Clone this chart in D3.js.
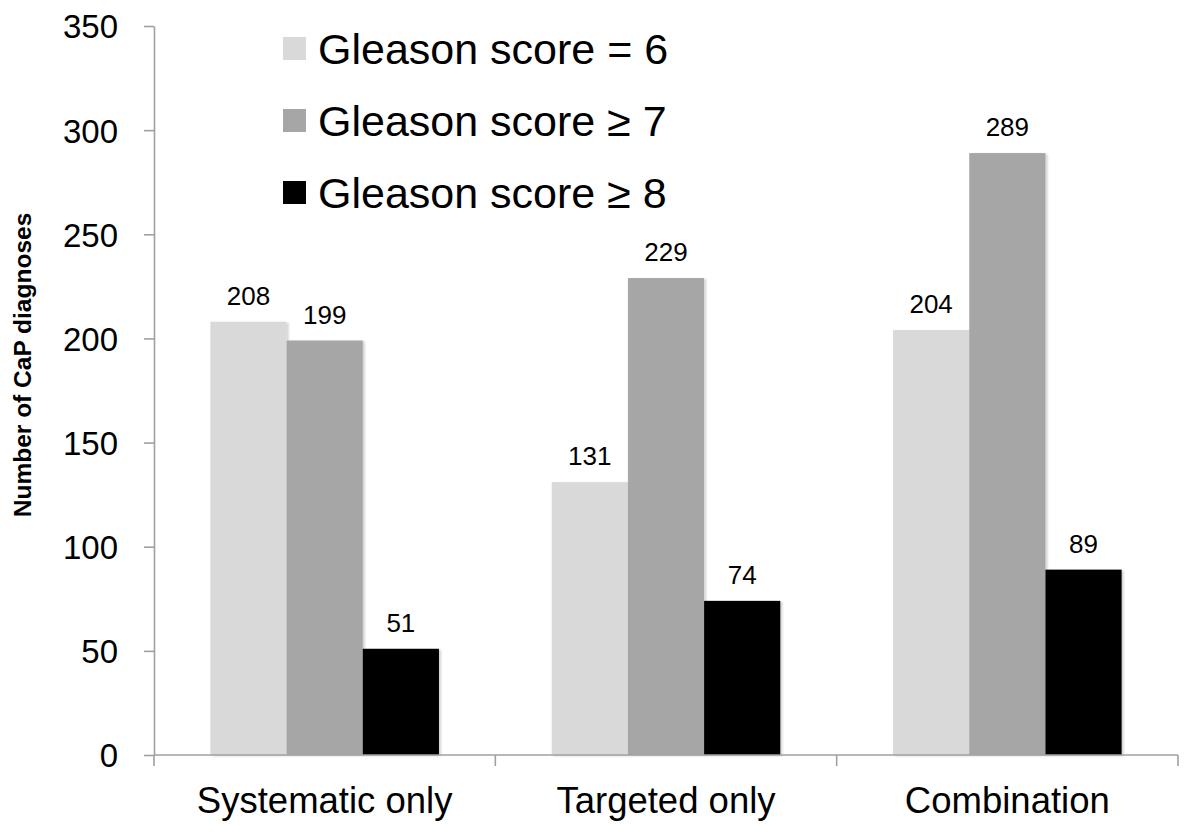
<!DOCTYPE html>
<html>
<head>
<meta charset="utf-8">
<script src="https://cdn.jsdelivr.net/npm/d3@7"></script>
<style>
  body { margin: 0; background: #fff; }
  text { font-family: "Liberation Sans", Arial, sans-serif; fill: #000; }
</style>
</head>
<body>
<div></div>
<script>
const categories = ["Systematic only", "Targeted only", "Combination"];
const seriesNames = ["Gleason score = 6", "Gleason score \u2265 7", "Gleason score \u2265 8"];
const gleason6 = [208, 131, 204];
const gleason7 = [199, 229, 289];
const gleason8 = [51, 74, 89];
const yTicks = [0, 50, 100, 150, 200, 250, 300, 350];
const colors = ["#d9d9d9", "#a6a6a6", "#000000"];

const series = [gleason6, gleason7, gleason8];

const width = 1200, height = 834;
const plotLeft = 154, plotRight = 1178, plotTop = 26, plotBottom = 755;

const svg = d3.select("div")
    .append("svg")
    .attr("width", width)
    .attr("height", height);

const defs = svg.append("defs");
const f = defs.append("filter").attr("id", "shadow")
    .attr("x", "-10%").attr("y", "-10%").attr("width", "130%").attr("height", "120%");
f.append("feDropShadow")
    .attr("dx", 2).attr("dy", 1).attr("stdDeviation", 1.2)
    .attr("flood-color", "#000").attr("flood-opacity", 0.18);

const x0 = d3.scaleBand().domain(categories).range([plotLeft, plotRight]).padding(0);
const x1 = d3.scaleBand().domain(d3.range(3)).range([0, x0.bandwidth()])
    .paddingInner(0).paddingOuter(0.74);
const y = d3.scaleLinear().domain([0, 350]).range([plotBottom, plotTop]);

// bars
categories.forEach((c, ci) => {
    const g = svg.append("g").attr("transform", "translate(" + x0(c) + ",0)");
    series.forEach((s, si) => {
        g.append("rect")
            .attr("x", x1(si))
            .attr("y", y(s[ci]))
            .attr("width", x1.bandwidth())
            .attr("height", y(0) - y(s[ci]))
            .attr("fill", colors[si])
            .attr("filter", "url(#shadow)");
        g.append("text")
            .attr("x", x1(si) + x1.bandwidth() / 2)
            .attr("y", y(s[ci]) - 17)
            .attr("text-anchor", "middle")
            .style("font-size", "26px")
            .text(s[ci]);
    });
});

// y axis
const yAxis = d3.axisLeft(y).tickValues(yTicks).tickSize(10).tickPadding(26).tickSizeOuter(0);
const ya = svg.append("g").attr("transform", "translate(" + plotLeft + ",0)").call(yAxis);
ya.selectAll("line, path").attr("stroke", "#a0a0a0").attr("stroke-width", 1.6);
ya.selectAll("text").style("font-size", "33px").attr("dy", "0.36em")
    .style("font-family", "'Liberation Sans', Arial, sans-serif");

// x axis
const xa = svg.append("g");
xa.append("line")
    .attr("x1", plotLeft).attr("x2", plotRight)
    .attr("y1", plotBottom).attr("y2", plotBottom)
    .attr("stroke", "#a0a0a0").attr("stroke-width", 1.6);
const bounds = categories.map(c => x0(c)).concat([x0(categories[categories.length - 1]) + x0.bandwidth()]);
bounds.forEach(b => {
    xa.append("line")
        .attr("x1", b).attr("x2", b)
        .attr("y1", plotBottom).attr("y2", plotBottom + 11)
        .attr("stroke", "#a0a0a0").attr("stroke-width", 1.6);
});
categories.forEach(c => {
    xa.append("text")
        .attr("x", x0(c) + x0.bandwidth() / 2)
        .attr("y", 813)
        .attr("text-anchor", "middle")
        .style("font-size", "36.5px")
        .text(c);
});

// y title
svg.append("text")
    .attr("transform", "translate(31,365) rotate(-90)")
    .attr("text-anchor", "middle")
    .style("font-size", "24.5px")
    .style("font-weight", "bold")
    .text("Number of CaP diagnoses");

// legend
const legend = svg.append("g");
seriesNames.forEach((n, i) => {
    const cy = 48.5 + i * 72;
    legend.append("rect")
        .attr("x", 283).attr("y", cy - 11.5)
        .attr("width", 23).attr("height", 23)
        .attr("fill", colors[i]);
    legend.append("text")
        .attr("x", 318).attr("y", cy + 15)
        .style("font-size", "43px")
        .text(n);
});
</script>
</body>
</html>
